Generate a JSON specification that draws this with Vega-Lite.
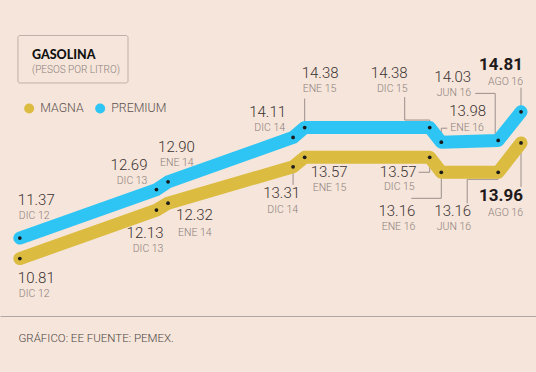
{
  "$schema": "https://vega.github.io/schema/vega-lite/v6.json",
  "width": 536,
  "height": 316,
  "autosize": {"type": "none"},
  "padding": {"left": 0, "right": 0, "top": 0, "bottom": 56},
  "background": "#f6e5da",
  "config": {"view": {"stroke": null}},
  "title": {
    "text": "GASOLINA",
    "subtitle": "(PESOS POR LITRO)",
    "anchor": "start",
    "frame": "group",
    "orient": "top",
    "offset": 0,
    "dx": 32,
    "dy": 75,
    "font": "Lato",
    "fontSize": 12.5,
    "fontWeight": 900,
    "color": "#111111",
    "subtitleFont": "Roboto",
    "subtitleFontWeight": 300,
    "subtitleFontSize": 10,
    "subtitleColor": "#8b807c",
    "subtitlePadding": 4
  },
  "data": {
    "values": [
      {"series": "MAGNA", "date": "2012-12-01", "value": 10.81, "label": "DIC 12"},
      {"series": "MAGNA", "date": "2013-12-01", "value": 12.13, "label": "DIC 13"},
      {"series": "MAGNA", "date": "2014-01-01", "value": 12.32, "label": "ENE 14"},
      {"series": "MAGNA", "date": "2014-12-01", "value": 13.31, "label": "DIC 14"},
      {"series": "MAGNA", "date": "2015-01-01", "value": 13.57, "label": "ENE 15"},
      {"series": "MAGNA", "date": "2015-12-01", "value": 13.57, "label": "DIC 15"},
      {"series": "MAGNA", "date": "2016-01-01", "value": 13.16, "label": "ENE 16"},
      {"series": "MAGNA", "date": "2016-06-01", "value": 13.16, "label": "JUN 16"},
      {"series": "MAGNA", "date": "2016-08-01", "value": 13.96, "label": "AGO 16"},
      {"series": "PREMIUM", "date": "2012-12-01", "value": 11.37, "label": "DIC 12"},
      {"series": "PREMIUM", "date": "2013-12-01", "value": 12.69, "label": "DIC 13"},
      {"series": "PREMIUM", "date": "2014-01-01", "value": 12.90, "label": "ENE 14"},
      {"series": "PREMIUM", "date": "2014-12-01", "value": 14.11, "label": "DIC 14"},
      {"series": "PREMIUM", "date": "2015-01-01", "value": 14.38, "label": "ENE 15"},
      {"series": "PREMIUM", "date": "2015-12-01", "value": 14.38, "label": "DIC 15"},
      {"series": "PREMIUM", "date": "2016-01-01", "value": 13.98, "label": "ENE 16"},
      {"series": "PREMIUM", "date": "2016-06-01", "value": 14.03, "label": "JUN 16"},
      {"series": "PREMIUM", "date": "2016-08-01", "value": 14.81, "label": "AGO 16"}
    ]
  },
  "encoding": {
    "x": {
      "field": "date",
      "type": "temporal",
      "scale": {
        "type": "utc",
        "nice": false,
        "domain": [
          {"year": 2012, "month": 10, "date": 9, "utc": true},
          {"year": 2016, "month": 9, "date": 10, "utc": true}
        ]
      },
      "axis": {
        "title": "GRÁFICO: EE FUENTE: PEMEX.",
        "labels": false,
        "ticks": false,
        "grid": false,
        "domain": true,
        "domainColor": "#b3a7a1",
        "domainWidth": 1,
        "titleAnchor": "start",
        "titleAlign": "left",
        "titleX": 18,
        "titleY": 22,
        "titleBaseline": "middle",
        "titleFont": "Roboto",
        "titleFontWeight": 300,
        "titleFontSize": 11.5,
        "titleColor": "#4d4545"
      }
    },
    "y": {
      "field": "value",
      "type": "quantitative",
      "scale": {"domain": [9.245, 17.855], "zero": false, "nice": false},
      "axis": null
    }
  },
  "layer": [
    {
      "transform": [{"filter": "datum.series==='PREMIUM' && datum.label==='DIC 12'"}],
      "mark": {"type": "rect", "fill": "transparent", "stroke": "#bfb0a8", "strokeWidth": 1, "cornerRadius": 2, "clip": false},
      "encoding": {
        "x": {"datum": 1353888000000, "type": "temporal"},
        "x2": {"datum": 1379289600000},
        "y": {"datum": 16.888, "type": "quantitative"},
        "y2": {"datum": 15.594}
      }
    },
    {
      "transform": [{"filter": "datum.series==='PREMIUM' && datum.label==='ENE 15'"}],
      "mark": {"type": "rule", "color": "#9b8f8a", "strokeWidth": 1, "y2Offset": -29},
      "encoding": {"y2": {"field": "value"}}
    },
    {
      "transform": [{"filter": "datum.series==='PREMIUM' && datum.label==='DIC 15'"}],
      "layer": [
        {"mark": {"type": "rule", "color": "#9b8f8a", "strokeWidth": 1, "y2Offset": -7.5}, "encoding": {"y2": {"field": "value"}}},
        {"mark": {"type": "rule", "color": "#9b8f8a", "strokeWidth": 1, "xOffset": -25, "yOffset": -7.5, "x2Offset": 0, "y2Offset": -7.5}, "encoding": {"x2": {"field": "date"}, "y2": {"field": "value"}}},
        {"mark": {"type": "rule", "color": "#9b8f8a", "strokeWidth": 1, "xOffset": -25, "yOffset": -7.5, "x2Offset": -25, "y2Offset": -30.5}, "encoding": {"x2": {"field": "date"}, "y2": {"field": "value"}}}
      ]
    },
    {
      "transform": [{"filter": "datum.series==='PREMIUM' && datum.label==='ENE 16'"}],
      "layer": [
        {"mark": {"type": "rule", "color": "#9b8f8a", "strokeWidth": 1, "y2Offset": -14}, "encoding": {"y2": {"field": "value"}}},
        {"mark": {"type": "rule", "color": "#9b8f8a", "strokeWidth": 1, "yOffset": -14, "x2Offset": 6, "y2Offset": -14}, "encoding": {"x2": {"field": "date"}, "y2": {"field": "value"}}}
      ]
    },
    {
      "transform": [{"filter": "datum.series==='PREMIUM' && datum.label==='JUN 16'"}],
      "layer": [
        {"mark": {"type": "rule", "color": "#9b8f8a", "strokeWidth": 1, "xOffset": -3, "x2Offset": -3, "y2Offset": -47}, "encoding": {"x2": {"field": "date"}, "y2": {"field": "value"}}},
        {"mark": {"type": "rule", "color": "#9b8f8a", "strokeWidth": 1, "xOffset": -23, "yOffset": -47, "x2Offset": -3, "y2Offset": -47}, "encoding": {"x2": {"field": "date"}, "y2": {"field": "value"}}}
      ]
    },
    {
      "transform": [{"filter": "datum.series==='PREMIUM' && datum.label==='AGO 16'"}],
      "mark": {"type": "rule", "color": "#9b8f8a", "strokeWidth": 1, "y2Offset": -24},
      "encoding": {"y2": {"field": "value"}}
    },
    {
      "transform": [{"filter": "datum.series==='MAGNA' && datum.label==='DIC 14'"}],
      "mark": {"type": "rule", "color": "#9b8f8a", "strokeWidth": 1, "y2Offset": 18},
      "encoding": {"y2": {"field": "value"}}
    },
    {
      "transform": [{"filter": "datum.series==='MAGNA' && datum.label==='DIC 15'"}],
      "layer": [
        {"mark": {"type": "rule", "color": "#9b8f8a", "strokeWidth": 1, "y2Offset": 15}, "encoding": {"y2": {"field": "value"}}},
        {"mark": {"type": "rule", "color": "#9b8f8a", "strokeWidth": 1, "xOffset": -11, "yOffset": 15, "x2Offset": 0, "y2Offset": 15}, "encoding": {"x2": {"field": "date"}, "y2": {"field": "value"}}}
      ]
    },
    {
      "transform": [{"filter": "datum.series==='MAGNA' && datum.label==='ENE 16'"}],
      "layer": [
        {"mark": {"type": "rule", "color": "#9b8f8a", "strokeWidth": 1, "y2Offset": 26}, "encoding": {"y2": {"field": "value"}}},
        {"mark": {"type": "rule", "color": "#9b8f8a", "strokeWidth": 1, "xOffset": -30, "yOffset": 26, "x2Offset": 0, "y2Offset": 26}, "encoding": {"x2": {"field": "date"}, "y2": {"field": "value"}}}
      ]
    },
    {
      "transform": [{"filter": "datum.series==='MAGNA' && datum.label==='JUN 16'"}],
      "layer": [
        {"mark": {"type": "rule", "color": "#9b8f8a", "strokeWidth": 1, "y2Offset": 7}, "encoding": {"y2": {"field": "value"}}},
        {"mark": {"type": "rule", "color": "#9b8f8a", "strokeWidth": 1, "xOffset": -31, "yOffset": 7, "x2Offset": 0, "y2Offset": 7}, "encoding": {"x2": {"field": "date"}, "y2": {"field": "value"}}},
        {"mark": {"type": "rule", "color": "#9b8f8a", "strokeWidth": 1, "xOffset": -31, "yOffset": 7, "x2Offset": -31, "y2Offset": 31}, "encoding": {"x2": {"field": "date"}, "y2": {"field": "value"}}}
      ]
    },
    {
      "transform": [{"filter": "datum.series==='MAGNA' && datum.label==='AGO 16'"}],
      "mark": {"type": "rule", "color": "#9b8f8a", "strokeWidth": 1, "y2Offset": 44},
      "encoding": {"y2": {"field": "value"}}
    },
    {
      "mark": {"type": "line", "strokeWidth": 13, "strokeCap": "round", "strokeJoin": "round"},
      "encoding": {
        "color": {
          "field": "series",
          "type": "nominal",
          "scale": {"domain": ["MAGNA", "PREMIUM"], "range": ["#dbbc40", "#2ec5f5"]},
          "legend": {
            "orient": "none",
            "legendX": 23,
            "legendY": 102,
            "direction": "horizontal",
            "title": null,
            "padding": 0,
            "symbolType": "circle",
            "symbolSize": 100,
            "symbolStrokeWidth": 0,
            "labelFont": "Roboto",
            "labelFontWeight": 300,
            "labelFontSize": 12.3,
            "labelColor": "#5a5050",
            "labelOffset": 5,
            "columnPadding": 10,
            "encode": {"symbols": {"update": {"fill": {"scale": "color", "field": "value"}, "fillOpacity": {"value": 1}, "strokeWidth": {"value": 0}}}}
          }
        }
      }
    },
    {
      "mark": {"type": "point", "filled": true, "size": 14, "color": "#1a1a1a", "opacity": 1}
    },
    {
      "transform": [{"filter": "datum.series==='PREMIUM' && datum.label==='DIC 12'"}],
      "layer": [
        {"mark": {"type": "text", "align": "left", "baseline": "middle", "font": "Roboto", "fontWeight": 300, "fontSize": 15, "color": "#3b3434", "dx": -2, "dy": -38}, "encoding": {"text": {"field": "value", "format": ".2f"}}},
        {"mark": {"type": "text", "align": "left", "baseline": "middle", "font": "Roboto", "fontWeight": 300, "fontSize": 10.5, "color": "#8b807c", "dx": -1, "dy": -22}, "encoding": {"text": {"field": "label"}}}
      ]
    },
    {
      "transform": [{"filter": "datum.series==='PREMIUM' && datum.label==='DIC 13'"}],
      "layer": [
        {"mark": {"type": "text", "align": "right", "baseline": "middle", "font": "Roboto", "fontWeight": 300, "fontSize": 15, "color": "#3b3434", "dx": -9, "dy": -25}, "encoding": {"text": {"field": "value", "format": ".2f"}}},
        {"mark": {"type": "text", "align": "right", "baseline": "middle", "font": "Roboto", "fontWeight": 300, "fontSize": 10.5, "color": "#8b807c", "dx": -9, "dy": -9}, "encoding": {"text": {"field": "label"}}}
      ]
    },
    {
      "transform": [{"filter": "datum.series==='PREMIUM' && datum.label==='ENE 14'"}],
      "layer": [
        {"mark": {"type": "text", "align": "left", "baseline": "middle", "font": "Roboto", "fontWeight": 300, "fontSize": 15, "color": "#3b3434", "dx": -10, "dy": -35}, "encoding": {"text": {"field": "value", "format": ".2f"}}},
        {"mark": {"type": "text", "align": "left", "baseline": "middle", "font": "Roboto", "fontWeight": 300, "fontSize": 10.5, "color": "#8b807c", "dx": -8, "dy": -19}, "encoding": {"text": {"field": "label"}}}
      ]
    },
    {
      "transform": [{"filter": "datum.series==='PREMIUM' && datum.label==='DIC 14'"}],
      "layer": [
        {"mark": {"type": "text", "align": "right", "baseline": "middle", "font": "Roboto", "fontWeight": 300, "fontSize": 15, "color": "#3b3434", "dx": -7, "dy": -25}, "encoding": {"text": {"field": "value", "format": ".2f"}}},
        {"mark": {"type": "text", "align": "right", "baseline": "middle", "font": "Roboto", "fontWeight": 300, "fontSize": 10.5, "color": "#8b807c", "dx": -8, "dy": -9}, "encoding": {"text": {"field": "label"}}}
      ]
    },
    {
      "transform": [{"filter": "datum.series==='PREMIUM' && datum.label==='ENE 15'"}],
      "layer": [
        {"mark": {"type": "text", "align": "left", "baseline": "middle", "font": "Roboto", "fontWeight": 300, "fontSize": 15, "color": "#3b3434", "dx": -3, "dy": -55}, "encoding": {"text": {"field": "value", "format": ".2f"}}},
        {"mark": {"type": "text", "align": "left", "baseline": "middle", "font": "Roboto", "fontWeight": 300, "fontSize": 10.5, "color": "#8b807c", "dx": -2, "dy": -39}, "encoding": {"text": {"field": "label"}}}
      ]
    },
    {
      "transform": [{"filter": "datum.series==='PREMIUM' && datum.label==='DIC 15'"}],
      "layer": [
        {"mark": {"type": "text", "align": "right", "baseline": "middle", "font": "Roboto", "fontWeight": 300, "fontSize": 15, "color": "#3b3434", "dx": -22, "dy": -55}, "encoding": {"text": {"field": "value", "format": ".2f"}}},
        {"mark": {"type": "text", "align": "right", "baseline": "middle", "font": "Roboto", "fontWeight": 300, "fontSize": 10.5, "color": "#8b807c", "dx": -22, "dy": -39}, "encoding": {"text": {"field": "label"}}}
      ]
    },
    {
      "transform": [{"filter": "datum.series==='PREMIUM' && datum.label==='ENE 16'"}],
      "layer": [
        {"mark": {"type": "text", "align": "left", "baseline": "middle", "font": "Roboto", "fontWeight": 300, "fontSize": 15, "color": "#3b3434", "dx": 8, "dy": -31}, "encoding": {"text": {"field": "value", "format": ".2f"}}},
        {"mark": {"type": "text", "align": "left", "baseline": "middle", "font": "Roboto", "fontWeight": 300, "fontSize": 10.5, "color": "#8b807c", "dx": 9, "dy": -14}, "encoding": {"text": {"field": "label"}}}
      ]
    },
    {
      "transform": [{"filter": "datum.series==='PREMIUM' && datum.label==='JUN 16'"}],
      "layer": [
        {"mark": {"type": "text", "align": "right", "baseline": "middle", "font": "Roboto", "fontWeight": 300, "fontSize": 15, "color": "#3b3434", "dx": -27, "dy": -63}, "encoding": {"text": {"field": "value", "format": ".2f"}}},
        {"mark": {"type": "text", "align": "right", "baseline": "middle", "font": "Roboto", "fontWeight": 300, "fontSize": 10.5, "color": "#8b807c", "dx": -27, "dy": -47}, "encoding": {"text": {"field": "label"}}}
      ]
    },
    {
      "transform": [{"filter": "datum.series==='PREMIUM' && datum.label==='AGO 16'"}],
      "layer": [
        {"mark": {"type": "text", "align": "right", "baseline": "middle", "font": "Roboto", "fontWeight": 700, "fontSize": 17, "color": "#1f1a1a", "dx": 2, "dy": -47}, "encoding": {"text": {"field": "value", "format": ".2f"}}},
        {"mark": {"type": "text", "align": "right", "baseline": "middle", "font": "Roboto", "fontWeight": 300, "fontSize": 10.5, "color": "#8b807c", "dx": 2, "dy": -30}, "encoding": {"text": {"field": "label"}}}
      ]
    },
    {
      "transform": [{"filter": "datum.series==='MAGNA' && datum.label==='DIC 12'"}],
      "layer": [
        {"mark": {"type": "text", "align": "left", "baseline": "middle", "font": "Roboto", "fontWeight": 300, "fontSize": 15, "color": "#3b3434", "dx": -2, "dy": 19}, "encoding": {"text": {"field": "value", "format": ".2f"}}},
        {"mark": {"type": "text", "align": "left", "baseline": "middle", "font": "Roboto", "fontWeight": 300, "fontSize": 10.5, "color": "#8b807c", "dx": -1, "dy": 35}, "encoding": {"text": {"field": "label"}}}
      ]
    },
    {
      "transform": [{"filter": "datum.series==='MAGNA' && datum.label==='DIC 13'"}],
      "layer": [
        {"mark": {"type": "text", "align": "right", "baseline": "middle", "font": "Roboto", "fontWeight": 300, "fontSize": 15, "color": "#3b3434", "dx": 7, "dy": 23}, "encoding": {"text": {"field": "value", "format": ".2f"}}},
        {"mark": {"type": "text", "align": "right", "baseline": "middle", "font": "Roboto", "fontWeight": 300, "fontSize": 10.5, "color": "#8b807c", "dx": 7, "dy": 39}, "encoding": {"text": {"field": "label"}}}
      ]
    },
    {
      "transform": [{"filter": "datum.series==='MAGNA' && datum.label==='ENE 14'"}],
      "layer": [
        {"mark": {"type": "text", "align": "left", "baseline": "middle", "font": "Roboto", "fontWeight": 300, "fontSize": 15, "color": "#3b3434", "dx": 8, "dy": 12}, "encoding": {"text": {"field": "value", "format": ".2f"}}},
        {"mark": {"type": "text", "align": "left", "baseline": "middle", "font": "Roboto", "fontWeight": 300, "fontSize": 10.5, "color": "#8b807c", "dx": 10, "dy": 30}, "encoding": {"text": {"field": "label"}}}
      ]
    },
    {
      "transform": [{"filter": "datum.series==='MAGNA' && datum.label==='DIC 14'"}],
      "layer": [
        {"mark": {"type": "text", "align": "right", "baseline": "middle", "font": "Roboto", "fontWeight": 300, "fontSize": 15, "color": "#3b3434", "dx": 7, "dy": 26}, "encoding": {"text": {"field": "value", "format": ".2f"}}},
        {"mark": {"type": "text", "align": "right", "baseline": "middle", "font": "Roboto", "fontWeight": 300, "fontSize": 10.5, "color": "#8b807c", "dx": 5, "dy": 43}, "encoding": {"text": {"field": "label"}}}
      ]
    },
    {
      "transform": [{"filter": "datum.series==='MAGNA' && datum.label==='ENE 15'"}],
      "layer": [
        {"mark": {"type": "text", "align": "left", "baseline": "middle", "font": "Roboto", "fontWeight": 300, "fontSize": 15, "color": "#3b3434", "dx": 6, "dy": 15}, "encoding": {"text": {"field": "value", "format": ".2f"}}},
        {"mark": {"type": "text", "align": "left", "baseline": "middle", "font": "Roboto", "fontWeight": 300, "fontSize": 10.5, "color": "#8b807c", "dx": 8, "dy": 31}, "encoding": {"text": {"field": "label"}}}
      ]
    },
    {
      "transform": [{"filter": "datum.series==='MAGNA' && datum.label==='DIC 15'"}],
      "layer": [
        {"mark": {"type": "text", "align": "right", "baseline": "middle", "font": "Roboto", "fontWeight": 300, "fontSize": 15, "color": "#3b3434", "dx": -13, "dy": 15}, "encoding": {"text": {"field": "value", "format": ".2f"}}},
        {"mark": {"type": "text", "align": "right", "baseline": "middle", "font": "Roboto", "fontWeight": 300, "fontSize": 10.5, "color": "#8b807c", "dx": -15, "dy": 30}, "encoding": {"text": {"field": "label"}}}
      ]
    },
    {
      "transform": [{"filter": "datum.series==='MAGNA' && datum.label==='ENE 16'"}],
      "layer": [
        {"mark": {"type": "text", "align": "right", "baseline": "middle", "font": "Roboto", "fontWeight": 300, "fontSize": 15, "color": "#3b3434", "dx": -26, "dy": 39}, "encoding": {"text": {"field": "value", "format": ".2f"}}},
        {"mark": {"type": "text", "align": "right", "baseline": "middle", "font": "Roboto", "fontWeight": 300, "fontSize": 10.5, "color": "#8b807c", "dx": -26, "dy": 55}, "encoding": {"text": {"field": "label"}}}
      ]
    },
    {
      "transform": [{"filter": "datum.series==='MAGNA' && datum.label==='JUN 16'"}],
      "layer": [
        {"mark": {"type": "text", "align": "right", "baseline": "middle", "font": "Roboto", "fontWeight": 300, "fontSize": 15, "color": "#3b3434", "dx": -27, "dy": 39}, "encoding": {"text": {"field": "value", "format": ".2f"}}},
        {"mark": {"type": "text", "align": "right", "baseline": "middle", "font": "Roboto", "fontWeight": 300, "fontSize": 10.5, "color": "#8b807c", "dx": -27, "dy": 55}, "encoding": {"text": {"field": "label"}}}
      ]
    },
    {
      "transform": [{"filter": "datum.series==='MAGNA' && datum.label==='AGO 16'"}],
      "layer": [
        {"mark": {"type": "text", "align": "right", "baseline": "middle", "font": "Roboto", "fontWeight": 700, "fontSize": 17, "color": "#1f1a1a", "dx": 2, "dy": 53}, "encoding": {"text": {"field": "value", "format": ".2f"}}},
        {"mark": {"type": "text", "align": "right", "baseline": "middle", "font": "Roboto", "fontWeight": 300, "fontSize": 10.5, "color": "#8b807c", "dx": 2, "dy": 70}, "encoding": {"text": {"field": "label"}}}
      ]
    }
  ]
}
